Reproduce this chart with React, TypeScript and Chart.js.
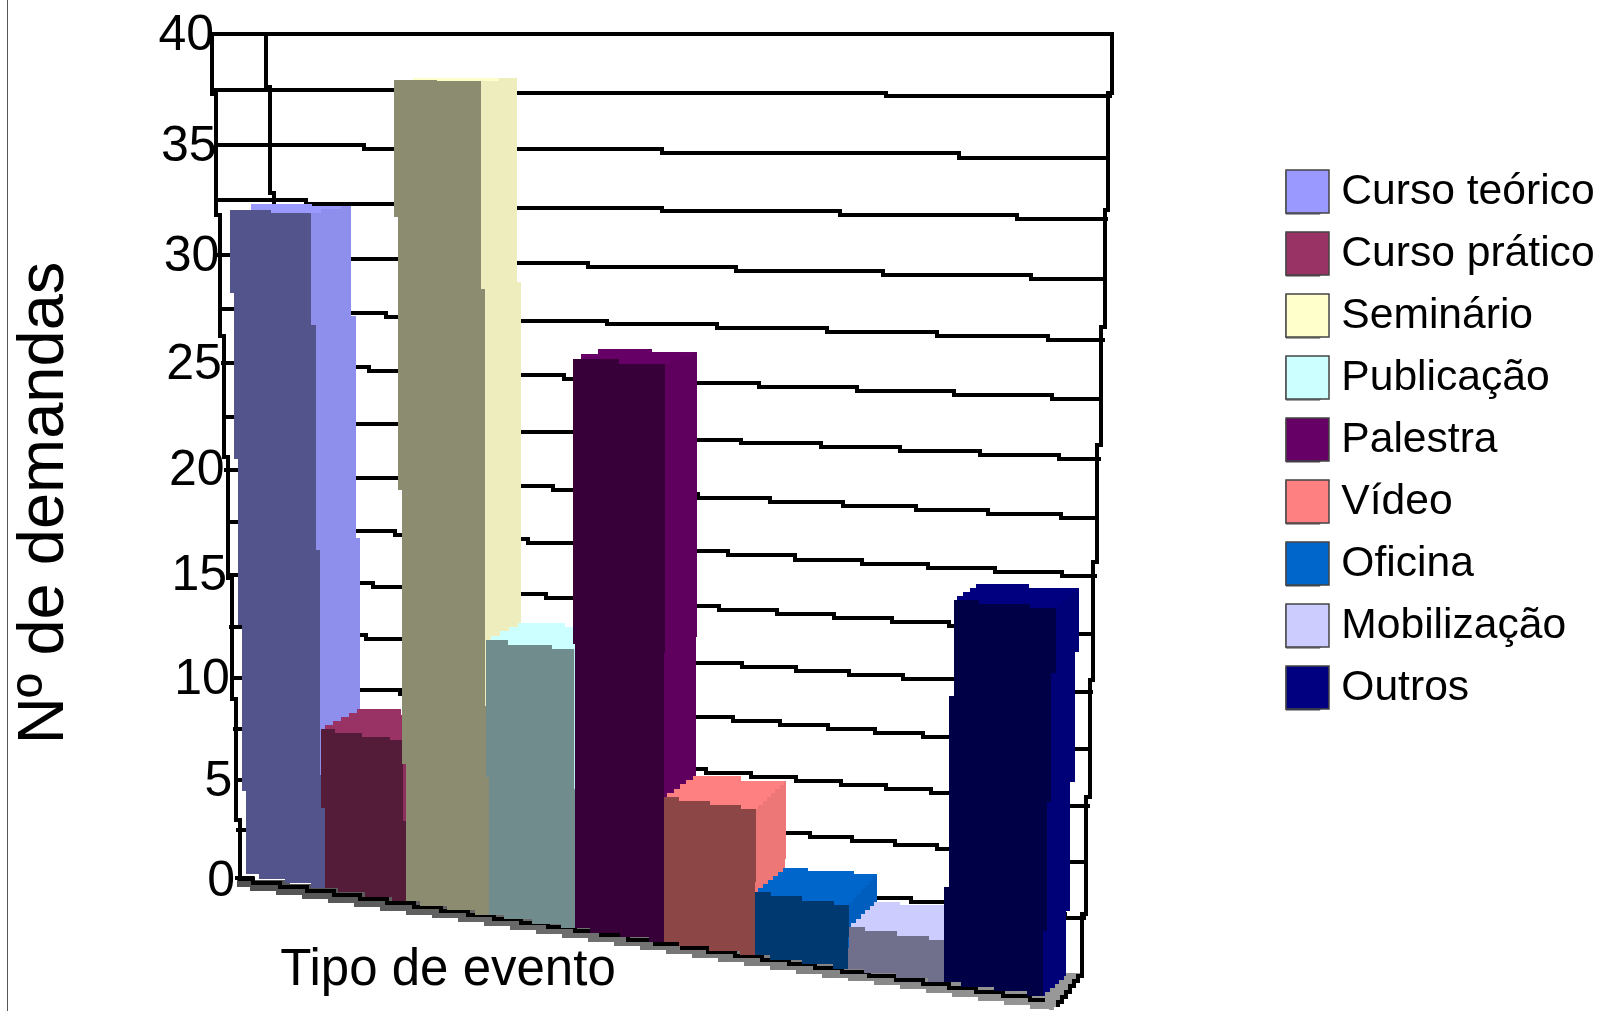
import React, { useEffect, useRef } from "react";
import { Chart, registerables } from "chart.js";

Chart.register(...registerables);

const eventTypes = ["Curso teórico", "Curso prático", "Seminário", "Publicação", "Palestra", "Vídeo", "Oficina", "Mobilização", "Outros"];
const demandCounts = [32, 7.8, 38, 13, 26, 6.7, 2.9, 1.9, 16.7];
const barColors = ["#9999FF", "#993366", "#FFFFCC", "#CCFFFF", "#660066", "#FF8080", "#0066CC", "#CCCCFF", "#000080"];
const yAxisTitle = "Nº de demandas";
const xAxisTitle = "Tipo de evento";
const SANS = '"Liberation Sans", Arial, sans-serif';

type Pt = [number, number];

const persp = (v: number) => v - 0.06 * v * (1 - v);

// back wall: normalized plot coordinates -> screen
const wall = (u: number, v: number): Pt => {
  const f = persp(v);
  const xL = 240 - 28 * v;
  const xR = 1082 + 30 * v;
  const yL = 880 - 846 * f;
  const yR = 973 - 939 * f;
  return [xL + (xR - xL) * u, yL + (yR - yL) * u];
};

// front plane of the bars: normalized plot coordinates -> screen
const front = (u: number, v: number): Pt => {
  const g = 0.873 * u + 0.127 * u * u;
  const x = 246 + 797 * g + v * (-19.5 + 25 * u + 25 * u * u);
  const y = 874 + 122 * u - (840 + 122 * u) * persp(v);
  return [x, y];
};

// offset from a front corner to the matching back corner
const depth = (p: Pt, rise: number): Pt => [p[0] + 47 - 0.0228 * p[0], p[1] - rise * 0.034 * p[1]];

function stepTo(ctx: CanvasRenderingContext2D, a: Pt, b: Pt, step = 4) {
  const dx = b[0] - a[0];
  const dy = b[1] - a[1];
  const R = Math.round;
  if (Math.abs(dy) >= Math.abs(dx)) {
    const n = Math.max(1, Math.round(Math.abs(dx) / step));
    for (let i = 0; i < n; i++) {
      const yn = R(a[1] + (dy * (i + 0.5)) / n);
      ctx.lineTo(R(a[0] + (dx * i) / n), yn);
      ctx.lineTo(R(a[0] + (dx * (i + 1)) / n), yn);
    }
  } else {
    const n = Math.max(1, Math.round(Math.abs(dy) / step));
    for (let i = 0; i < n; i++) {
      const xn = R(a[0] + (dx * (i + 0.5)) / n);
      ctx.lineTo(xn, R(a[1] + (dy * i) / n));
      ctx.lineTo(xn, R(a[1] + (dy * (i + 1)) / n));
    }
  }
  ctx.lineTo(R(b[0]), R(b[1]));
}

function poly(ctx: CanvasRenderingContext2D, pts: Pt[], fill: string | CanvasGradient) {
  ctx.beginPath();
  ctx.moveTo(Math.round(pts[0][0]), Math.round(pts[0][1]));
  pts.forEach((p, i) => stepTo(ctx, p, pts[(i + 1) % pts.length]));
  ctx.closePath();
  ctx.fillStyle = fill;
  ctx.fill();
}

function line(ctx: CanvasRenderingContext2D, a: Pt, b: Pt, width = 4, color = "#000") {
  ctx.beginPath();
  ctx.moveTo(Math.round(a[0]), Math.round(a[1]));
  stepTo(ctx, a, b);
  ctx.lineWidth = width;
  ctx.strokeStyle = color;
  ctx.lineJoin = "miter";
  ctx.lineCap = "square";
  ctx.stroke();
}

function shade(hex: string, k: number) {
  const n = parseInt(hex.slice(1), 16);
  const c = [(n >> 16) & 255, (n >> 8) & 255, n & 255].map((x) => Math.round(x * k));
  return `rgb(${c[0]},${c[1]},${c[2]})`;
}

const LEGEND_PAD = 19;

const perspectivePlugin = {
  id: "perspective",
  afterLayout(chart: any) {
    const lg = chart.legend;
    lg.left = 1286 - LEGEND_PAD;
    lg.top = 171 - LEGEND_PAD;
  },
  beforeDatasetDraw() {
    return false;
  },
  beforeDatasetsDraw(chart: any) {
    const ctx: CanvasRenderingContext2D = chart.ctx;
    const y = chart.scales.y;
    const a = chart.chartArea;
    ctx.save();
    // page edge rule
    ctx.fillStyle = "#555";
    ctx.fillRect(7, 0, 1, chart.height);

    // gridlines from the y scale's ticks
    y.ticks.forEach((t: any) => {
      const v = (a.bottom - y.getPixelForValue(t.value)) / a.height;
      if (v > 0) line(ctx, wall(0, v), wall(1, v));
    });
    // walls
    line(ctx, wall(0, 0), wall(0, 1));
    line(ctx, wall(1, 0), wall(1, 1));
    line(ctx, [266, 34], [296, 880]);

    // floor
    const grad = ctx.createLinearGradient(237, 0, 1082, 0);
    grad.addColorStop(0, "#505050");
    grad.addColorStop(1, "#9a9a9a");
    poly(ctx, [[237, 876], [1082, 973], [1054, 1010], [1043, 1009], [237, 887]], grad);
    line(ctx, [240, 879], [1043, 1000]);
    line(ctx, [1082, 973], [1058, 1005]);
    line(ctx, [237, 878], [252, 878]);

    // tick labels
    ctx.fillStyle = "#000";
    ctx.font = `50px ${SANS}`;
    ctx.textAlign = "right";
    ctx.textBaseline = "middle";
    y.ticks.forEach((t: any) => {
      if (t.value % 5 !== 0) return;
      const v = (a.bottom - y.getPixelForValue(t.value)) / a.height;
      const p = wall(0, v);
      ctx.fillText(String(t.value), p[0] - 5 + 7 * v, p[1] + 2);
    });

    // axis titles
    ctx.textAlign = "center";
    ctx.font = `51px ${SANS}`;
    ctx.fillText(xAxisTitle, 448, 971);
    ctx.save();
    ctx.translate(45, 503);
    ctx.rotate(-Math.PI / 2);
    ctx.font = `65px ${SANS}`;
    ctx.fillText(yAxisTitle, 0, 0);
    ctx.restore();
    ctx.restore();
  },
  afterDatasetsDraw(chart: any) {
    const ctx: CanvasRenderingContext2D = chart.ctx;
    const a = chart.chartArea;
    ctx.save();
    chart.data.datasets.forEach((ds: any, i: number) => {
      const el = chart.getDatasetMeta(i).data[0];
      const u0 = (el.x - el.width / 2 - a.left) / a.width;
      const u1 = (el.x + el.width / 2 - a.left) / a.width;
      const v = (a.bottom - el.y) / a.height;
      const tl = front(u0, v);
      const tr = front(u1, v);
      const bl = front(u0, 0);
      const br = front(u1, 0);
      const col = ds.backgroundColor as string;
      poly(ctx, [tr, br, depth(br, 0.6), depth(tr, 1)], shade(col, 0.93));
      poly(ctx, [tl, tr, depth(tr, 1), depth(tl, 0.8)], col);
      poly(ctx, [tl, tr, br, bl], shade(col, 0.55));
    });
    ctx.restore();
  },
  afterDraw(chart: any) {
    const ctx: CanvasRenderingContext2D = chart.ctx;
    const lg = chart.legend;
    ctx.save();
    lg.legendItems.forEach((item: any, i: number) => {
      const top = 170 + i * 62;
      ctx.fillStyle = item.fillStyle;
      ctx.strokeStyle = "#444";
      ctx.lineWidth = 1.5;
      ctx.fillRect(1286, top, 43, 43);
      ctx.strokeRect(1286, top, 43, 43);
    });
    ctx.restore();
  },
};

export default function App() {
  const ref = useRef<HTMLCanvasElement>(null);
  useEffect(() => {
    const chart = new Chart(ref.current as HTMLCanvasElement, {
      type: "bar",
      data: {
        labels: [""],
        datasets: eventTypes.map((name, i) => ({
          label: name,
          data: [demandCounts[i]],
          backgroundColor: barColors[i],
          borderColor: "#444",
          borderWidth: 1,
          categoryPercentage: 1,
          barPercentage: 1,
        })),
      },
      options: {
        responsive: false,
        animation: false,
        devicePixelRatio: 1,
        layout: { padding: 0 },
        scales: {
          x: { display: false },
          y: { display: false, min: 0, max: 40, ticks: { stepSize: 2.5 } },
        },
        plugins: {
          tooltip: { enabled: false },
          legend: {
            position: "right",
            align: "start",
            labels: {
              boxWidth: 34,
              boxHeight: 43,
              padding: LEGEND_PAD,
              color: "#000",
              font: { family: SANS, size: 42.6 },
            },
          },
        },
      },
      plugins: [perspectivePlugin],
    } as any);
    return () => chart.destroy();
  }, []);
  return (
    <canvas
      ref={ref}
      width={1602}
      height={1011}
      style={{ position: "fixed", left: 0, top: 0, width: 1602, height: 1011, background: "#fff" }}
    />
  );
}
